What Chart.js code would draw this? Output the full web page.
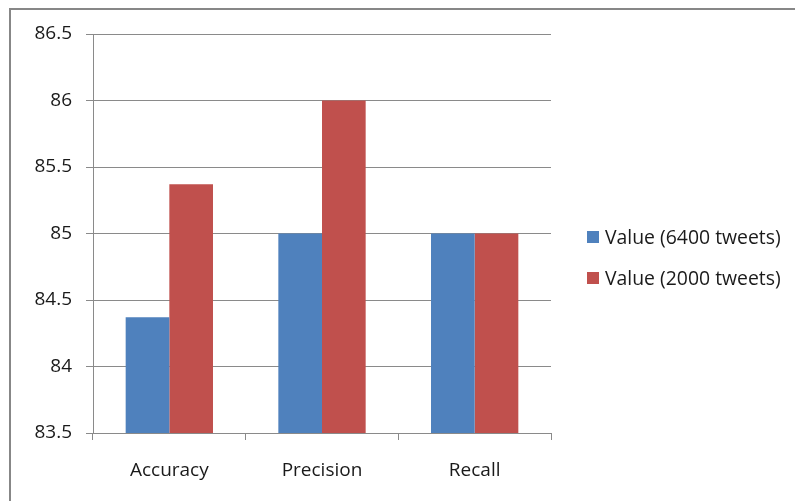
<!DOCTYPE html>
<html>
<head>
<meta charset="utf-8">
<script src="https://cdn.jsdelivr.net/npm/chart.js@4/dist/chart.umd.min.js"></script>
<style>
  html, body { margin: 0; padding: 0; background: #fff; }
  #wrap { position: relative; width: 795px; height: 501px; overflow: hidden; background: #fff; }
  #frame { position: absolute; left: 9px; top: 8px; width: 900px; height: 600px;
           border-left: 2px solid #878787; border-top: 2px solid #878787; }
  canvas { position: absolute; left: 0; top: 0; }
</style>
</head>
<body>
<div id="wrap">
  <div id="frame"></div>
  <canvas id="chart" width="795" height="501"></canvas>
</div>
<script>
// Categories, series and axis ticks
const categories = ['Accuracy', 'Precision', 'Recall'];
const seriesNames = ['Value (6400 tweets)', 'Value (2000 tweets)'];
const values6400 = [84.37, 85, 85];
const values2000 = [85.37, 86, 85];
const yTicks = [83.5, 84, 84.5, 85, 85.5, 86, 86.5];

const seriesColors = ['#4F81BD', '#C0504D'];
const gridColor = '#8a8a8a';
const textColor = '#1a1a1a';
const fontFamily = '"Open Sans", "Liberation Sans", sans-serif';

// Legend drawn to the right of the plot, square swatch + label
const sideLegend = {
  id: 'sideLegend',
  afterDraw(chart) {
    const ctx = chart.ctx;
    const x = chart.chartArea.right + 36;
    const y0 = 237;
    const dy = 41;
    ctx.save();
    chart.data.datasets.forEach((ds, i) => {
      const cy = y0 + i * dy;
      ctx.fillStyle = ds.backgroundColor;
      ctx.fillRect(x, cy - 6, 12, 12);
      ctx.fillStyle = textColor;
      ctx.font = '19.4px ' + fontFamily;
      ctx.textBaseline = 'middle';
      ctx.textAlign = 'left';
      ctx.fillText(ds.label, x + 18, cy + 1);
    });
    ctx.restore();
  }
};

new Chart(document.getElementById('chart'), {
  type: 'bar',
  data: {
    labels: categories,
    datasets: [
      { label: seriesNames[0], data: values6400, backgroundColor: seriesColors[0] },
      { label: seriesNames[1], data: values2000, backgroundColor: seriesColors[1] }
    ]
  },
  options: {
    responsive: false,
    animation: false,
    devicePixelRatio: 1,
    layout: { padding: { left: 0, top: 34, right: 244, bottom: 0 } },
    datasets: { bar: { categoryPercentage: 0.572, barPercentage: 1.0, borderWidth: 0 } },
    plugins: {
      legend: { display: false },
      tooltip: { enabled: false }
    },
    scales: {
      x: {
        grid: { offset: true, drawOnChartArea: false, drawTicks: true, tickLength: 7, color: gridColor },
        border: { display: true, color: gridColor },
        ticks: { color: textColor, font: { family: fontFamily, size: 19 }, padding: 19 },
        afterFit(scale) { scale.height = 68; }
      },
      y: {
        min: 83.5,
        max: 86.5,
        afterBuildTicks(scale) { scale.ticks = yTicks.map(v => ({ value: v })); },
        grid: { color: gridColor, drawTicks: true, tickLength: 7 },
        border: { display: true, color: gridColor },
        ticks: {
          color: textColor,
          font: { family: fontFamily, size: 19 },
          padding: 14,
          callback: v => String(v)
        },
        afterFit(scale) { scale.width = 93; }
      }
    }
  },
  plugins: [sideLegend]
});
</script>
</body>
</html>
